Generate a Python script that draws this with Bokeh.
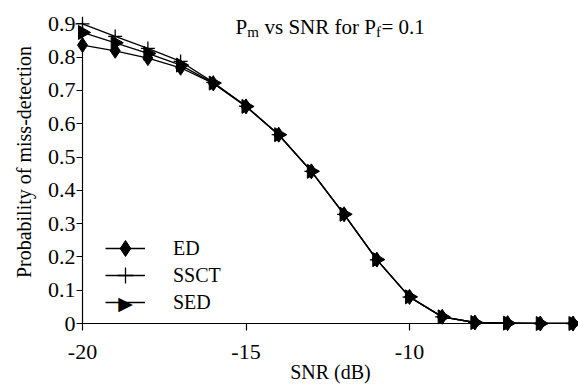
import math
from bokeh.plotting import figure
from bokeh.models import Range1d, FixedTicker, Label, Legend, LegendItem
from bokeh.embed import file_html
from bokeh.resources import INLINE

# ---- data ----
snr_db = [-20, -19, -18, -17, -16, -15, -14, -13, -12, -11, -10, -9, -8, -7, -6, -5]
pm_ed = [0.836, 0.819, 0.797, 0.768, 0.721, 0.652, 0.567, 0.457, 0.328, 0.192,
         0.080, 0.020, 0.003, 0.001, 0.000, 0.000]
pm_ssct = [0.900, 0.862, 0.826, 0.787, 0.724, 0.653, 0.567, 0.457, 0.328, 0.191,
           0.079, 0.020, 0.003, 0.001, 0.000, 0.000]
pm_sed = [0.874, 0.843, 0.811, 0.776, 0.722, 0.652, 0.567, 0.457, 0.328, 0.192,
          0.080, 0.020, 0.003, 0.001, 0.000, 0.000]

x_ticks = [-20, -15, -10, -5]
x_tick_labels = ["-20", "-15", "-10", ""]
y_ticks = [0, 0.1, 0.2, 0.3, 0.4, 0.5, 0.6, 0.7, 0.8, 0.9]
y_tick_labels = ["0", "0.1", "0.2", "0.3", "0.4", "0.5", "0.6", "0.7", "0.8", "0.9"]

FONT = "Liberation Serif"

p = figure(width=578, height=385,
           x_range=Range1d(-20, -4.832), y_range=Range1d(0, 0.970),
           output_backend="svg", toolbar_location=None,
           min_border_left=82, min_border_right=0, min_border_top=0,
           min_border_bottom=62)
p.outline_line_color = None
p.xgrid.visible = False
p.ygrid.visible = False
p.background_fill_color = "white"
p.border_fill_color = "white"

p.yaxis.bounds = (0, 0.907)
p.xaxis.ticker = FixedTicker(ticks=x_ticks)
p.yaxis.ticker = FixedTicker(ticks=y_ticks)
p.xaxis.major_label_overrides = {t: s for t, s in zip(x_ticks, x_tick_labels)}
p.yaxis.major_label_overrides = {t: s for t, s in zip(y_ticks, y_tick_labels)}
for ax in (p.xaxis, p.yaxis):
    ax.axis_line_color = "black"
    ax.axis_line_width = 1.2
    ax.major_tick_line_color = "black"
    ax.major_tick_line_width = 1.2
    ax.major_tick_in = 0
    ax.minor_tick_line_color = None
    ax.major_label_text_font = FONT
    ax.major_label_text_font_size = "22px"
    ax.major_label_text_color = "black"
    ax.axis_label_text_font = FONT
    ax.axis_label_text_font_size = "20px"
    ax.axis_label_text_font_style = "normal"
    ax.axis_label_text_color = "black"
p.xaxis.major_tick_out = 7
p.yaxis.major_tick_out = 6
p.xaxis.major_label_standoff = 14
p.yaxis.major_label_standoff = 1
p.xaxis.axis_label = "SNR (dB)"
p.yaxis.axis_label = "Probability of miss-detection"
p.xaxis.axis_label_standoff = -1
p.yaxis.axis_label_standoff = 10

# series
l1 = p.line(snr_db, pm_ed, line_color="black", line_width=1.3)
m1 = p.scatter(snr_db, pm_ed, marker="diamond", size=15, fill_color="black",
               line_color="black", level="overlay")
l2 = p.line(snr_db, pm_ssct, line_color="black", line_width=1.3)
m2 = p.scatter(snr_db, pm_ssct, marker="cross", size=14, line_color="black",
               line_width=1.3, level="overlay")
l3 = p.line(snr_db, pm_sed, line_color="black", line_width=1.3)
m3 = p.scatter(snr_db, pm_sed, marker="triangle", size=14, angle=-math.pi / 2,
               fill_color="black", line_color="black", level="overlay")

# legend: one row per legend so the rows can sit close with large symbols
legend_rows = [("ED", [l1, m1], 55), ("SSCT", [l2, m2], 28), ("SED", [l3], 1)]
for lab, rends, ly in legend_rows:
    p.add_layout(Legend(items=[LegendItem(label=lab, renderers=rends)],
                        location=(23, ly), padding=0, margin=0, spacing=0,
                        glyph_width=40, glyph_height=40, label_height=40,
                        label_standoff=28, border_line_color=None,
                        background_fill_alpha=0,
                        label_text_font=FONT, label_text_font_size="20px",
                        label_text_color="black"), "center")
# right-pointing symbol for the SED legend row
p.add_layout(Label(x=43, y=21, x_units="screen", y_units="screen", text="\u25B6",
                   text_font="DejaVu Sans", text_font_size="19px",
                   text_align="center", text_baseline="middle", text_color="black"))

# title composed of pieces (for subscripts)
title_parts = [("P", 153, 296.5, "21px"), ("m", 164.7, 292.0, "15px"),
               ("vs SNR for P", 182, 296.5, "21px"), ("f", 293.4, 292.0, "15px"),
               ("= 0.1", 299, 296.5, "21px")]
for txt, sx, sy, fs in title_parts:
    p.add_layout(Label(x=sx, y=sy, x_units="screen", y_units="screen", text=txt,
                       text_font=FONT, text_font_size=fs, text_color="black",
                       text_baseline="alphabetic", text_align="left"))

open("out.html", "w").write(file_html(p, INLINE))
